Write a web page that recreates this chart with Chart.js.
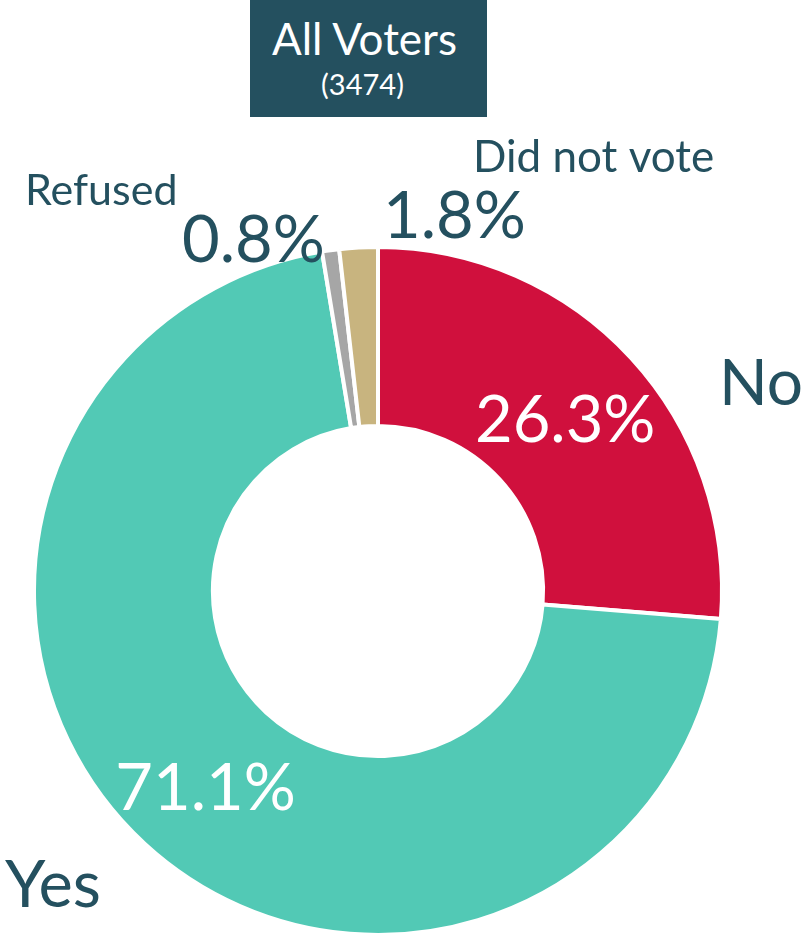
<!DOCTYPE html>
<html>
<head>
<meta charset="utf-8">
<title>All Voters</title>
<script src="https://cdn.jsdelivr.net/npm/chart.js"></script>
<style>
  html, body { margin: 0; padding: 0; background: #fff; }
  #wrap { position: relative; width: 807px; height: 937px; overflow: hidden; }
  #chart { position: absolute; left: 0; top: 0; }
  .title-box {
    position: absolute; left: 250px; top: 0; width: 237px; height: 117px;
    background: #24505f; color: #fff; font-family: Lato, sans-serif; text-align: center;
  }
  .title-box .main { font-size: 44px; line-height: 44px; padding-top: 16px; padding-right: 8px; }
  .title-box .sub { font-size: 29px; line-height: 29px; margin-top: 9px; padding-right: 12px; }
</style>
</head>
<body>
<div id="wrap">
  <div class="title-box">
    <div class="main">All Voters</div>
    <div class="sub">(3474)</div>
  </div>
  <canvas id="chart" width="807" height="937"></canvas>
</div>
<script>
// 응답 분포 (시계 방향, 12시부터)
const categories = ['No', 'Yes', 'Refused', 'Did not vote'];
const shares = [26.3, 71.1, 0.8, 1.8];
const sliceColors = ['#d0103d', '#52c9b5', '#a6a6a6', '#c8b47f'];

const textColor = '#24505f';

// 라벨 배치: inside 는 조각 중심(dy 보정), 나머지는 바깥 고정 위치
const labelLayout = [
  { inside: true, dy: 24, name: { x: 719, y: 405, size: 64 } },
  { inside: true, dy: 32, name: { x: 5, y: 907, size: 65 } },
  { name: { x: 25, y: 205, size: 43 }, pct: { x: 182, y: 262, size: 65 } },
  { name: { x: 473, y: 172, size: 44 }, pct: { x: 383, y: 238, size: 65 } }
];

const fmt = v => v.toFixed(1) + '%';

const labelPlugin = {
  id: 'sliceLabels',
  afterDraw(chart) {
    const ctx = chart.ctx;
    const arcs = chart.getDatasetMeta(0).data;
    ctx.save();
    ctx.textBaseline = 'alphabetic';
    labelLayout.forEach((lay, i) => {
      // 카테고리 이름
      ctx.fillStyle = textColor;
      ctx.textAlign = 'left';
      ctx.font = `${lay.name.size}px Lato, sans-serif`;
      ctx.fillText(categories[i], lay.name.x, lay.name.y);

      if (lay.inside) {
        const p = arcs[i].tooltipPosition();
        ctx.fillStyle = '#ffffff';
        ctx.textAlign = 'center';
        ctx.font = '65px Lato, sans-serif';
        ctx.fillText(fmt(shares[i]), p.x, p.y + lay.dy);
      } else {
        ctx.fillStyle = textColor;
        ctx.textAlign = 'left';
        ctx.font = `${lay.pct.size}px Lato, sans-serif`;
        ctx.fillText(fmt(shares[i]), lay.pct.x, lay.pct.y);
      }
    });
    ctx.restore();
  }
};

function draw() {
  new Chart(document.getElementById('chart'), {
    type: 'doughnut',
    data: {
      labels: categories,
      datasets: [{
        data: shares,
        backgroundColor: sliceColors,
        borderColor: '#ffffff',
        borderWidth: 4
      }]
    },
    options: {
      responsive: false,
      animation: false,
      cutout: '48%',
      layout: { padding: { left: 31, right: 82, top: 245, bottom: 0 } },
      plugins: { legend: { display: false }, tooltip: { enabled: false } }
    },
    plugins: [labelPlugin]
  });
}

document.fonts.load('65px Lato').then(draw, draw);
</script>
</body>
</html>
